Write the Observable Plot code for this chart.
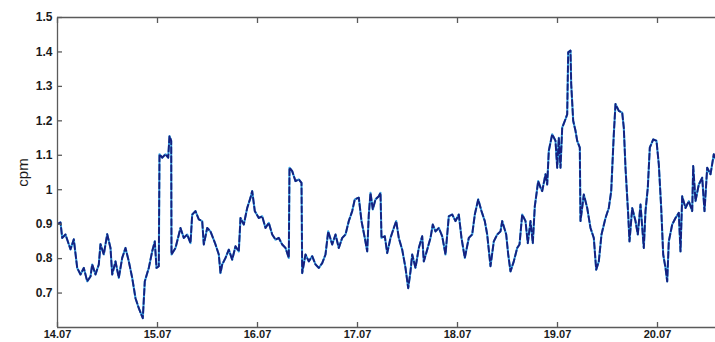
<!DOCTYPE html>
<html>
<head>
<meta charset="utf-8">
<script src="https://cdn.jsdelivr.net/npm/d3@7"></script>
<script src="https://cdn.jsdelivr.net/npm/@observablehq/plot@0.6"></script>
<style>
  html, body { margin: 0; padding: 0; background: #fff; }
</style>
</head>
<body>
<div id="chart"></div>
<script>
// Time in days (day-of-month of July), count rate in cpm
const times = [
  14.000,14.030,14.047,14.080,14.130,14.163,14.197,14.230,14.263,14.297,14.330,14.347,14.380,14.413,14.430,14.463,14.497,14.530,14.547,14.580,
  14.613,14.647,14.680,14.713,14.747,14.780,14.813,14.853,14.873,14.913,14.947,14.973,14.990,15.013,15.020,15.047,15.080,15.107,15.120,15.137,
  15.140,15.180,15.230,15.263,15.297,15.330,15.347,15.380,15.413,15.447,15.463,15.497,15.530,15.580,15.613,15.630,15.647,15.680,15.713,15.747,
  15.780,15.813,15.830,15.863,15.897,15.930,15.947,15.973,16.013,16.047,16.080,16.113,16.147,16.180,16.213,16.247,16.280,16.313,16.320,16.347,
  16.380,16.413,16.440,16.447,16.480,16.513,16.547,16.580,16.613,16.647,16.680,16.707,16.747,16.780,16.813,16.847,16.880,16.913,16.947,16.973,
  17.013,17.040,17.073,17.097,17.113,17.130,17.153,17.180,17.213,17.230,17.240,17.273,17.297,17.330,17.363,17.387,17.413,17.447,17.480,17.507,
  17.530,17.547,17.580,17.613,17.647,17.663,17.697,17.730,17.753,17.780,17.813,17.847,17.880,17.913,17.947,17.980,18.013,18.040,18.073,18.113,
  18.147,18.173,18.207,18.240,18.273,18.297,18.330,18.363,18.397,18.430,18.447,18.487,18.507,18.530,18.563,18.597,18.620,18.647,18.680,18.703,
  18.730,18.753,18.773,18.807,18.830,18.847,18.880,18.897,18.913,18.947,18.980,18.997,19.013,19.030,19.047,19.080,19.097,19.107,19.130,19.137,
  19.157,19.180,19.197,19.223,19.230,19.263,19.297,19.330,19.363,19.387,19.413,19.440,19.480,19.513,19.537,19.563,19.580,19.613,19.647,19.663,
  19.680,19.707,19.720,19.747,19.780,19.803,19.830,19.863,19.880,19.903,19.923,19.957,19.990,20.013,20.037,20.057,20.080,20.097,20.113,20.147,
  20.180,20.213,20.230,20.247,20.280,20.313,20.347,20.357,20.380,20.413,20.447,20.470,20.497,20.530,20.563,20.580
];
const cpm = [
  0.900,0.905,0.860,0.870,0.827,0.856,0.773,0.754,0.773,0.734,0.748,0.783,0.754,0.783,0.842,0.812,0.871,0.831,0.754,0.792,
  0.744,0.802,0.831,0.792,0.744,0.685,0.656,0.627,0.734,0.773,0.821,0.850,0.773,0.778,1.103,1.093,1.103,1.093,1.156,1.142,
  0.812,0.831,0.889,0.860,0.870,0.845,0.928,0.938,0.914,0.909,0.841,0.889,0.879,0.841,0.812,0.758,0.783,0.802,0.826,0.797,
  0.836,0.821,0.918,0.899,0.947,0.977,0.996,0.938,0.918,0.923,0.889,0.904,0.870,0.855,0.860,0.841,0.831,0.802,1.064,1.054,
  1.025,1.030,1.020,0.758,0.812,0.792,0.807,0.783,0.773,0.787,0.812,0.879,0.841,0.870,0.831,0.860,0.870,0.909,0.938,0.972,
  0.977,0.909,0.860,0.821,0.928,0.991,0.943,0.972,0.981,0.991,0.860,0.865,0.816,0.860,0.889,0.909,0.860,0.826,0.773,0.714,
  0.763,0.812,0.773,0.831,0.865,0.792,0.826,0.860,0.899,0.879,0.889,0.865,0.812,0.923,0.928,0.909,0.928,0.860,0.802,0.860,
  0.870,0.928,0.972,0.938,0.909,0.870,0.778,0.850,0.870,0.879,0.909,0.870,0.812,0.763,0.792,0.831,0.841,0.928,0.909,0.845,
  0.909,0.845,0.952,1.025,1.006,0.996,1.045,1.015,1.113,1.161,1.142,1.064,1.151,1.064,1.180,1.205,1.219,1.399,1.404,1.307,
  1.200,1.171,1.142,1.122,0.909,0.986,0.947,0.889,0.860,0.768,0.792,0.870,0.918,0.947,0.996,1.161,1.249,1.229,1.224,1.180,
  1.064,0.928,0.850,0.947,0.909,0.870,0.957,0.831,0.938,1.006,1.122,1.146,1.142,1.074,0.947,0.812,0.773,0.734,0.850,0.899,
  0.918,0.933,0.821,0.981,0.947,0.967,0.938,1.069,0.967,1.015,1.035,0.938,1.064,1.045,1.103,1.090
];
const dayTicks = [14, 15, 16, 17, 18, 19, 20];
const dayLabels = ["14.07", "15.07", "16.07", "17.07", "18.07", "19.07", "20.07"];
const cpmTicks = [0.7, 0.8, 0.9, 1.0, 1.1, 1.2, 1.3, 1.4, 1.5];
const cpmLabels = ["0.7", "0.8", "0.9", "1", "1.1", "1.2", "1.3", "1.4", "1.5"];

const data = times.map((t, i) => ({t, v: cpm[i]}));
const axisColor = "#5a5a5a";

const chart = Plot.plot({
  width: 715,
  height: 342,
  marginLeft: 57,
  marginRight: 0,
  marginTop: 17,
  marginBottom: 15,
  x: {domain: [14, 20.58]},
  y: {domain: [0.6, 1.5]},
  style: {fontFamily: "'Liberation Sans', Arial, sans-serif", fontSize: "12px", fontWeight: "bold", color: "#1a1a1a", background: "#fff", overflow: "visible"},
  marks: [
    Plot.line(data, {x: "t", y: "v", stroke: "#3ba8e4", strokeWidth: 2.1, clip: true}),
    Plot.line(data, {x: "t", y: "v", stroke: "#16207f", strokeWidth: 1.9, strokeDasharray: "6,3", clip: true}),
    Plot.ruleY([0.6, 1.5], {stroke: axisColor, strokeWidth: 1.3}),
    Plot.ruleX([14], {stroke: axisColor, strokeWidth: 1.3}),
    Plot.axisX({ticks: dayTicks, tickSize: -5, tickFormat: () => "", stroke: axisColor, strokeWidth: 1.3, label: null}),
    Plot.axisX({anchor: "top", ticks: dayTicks, tickSize: -5, tickFormat: () => "", stroke: axisColor, strokeWidth: 1.3, label: null}),
    Plot.axisX({ticks: dayTicks, tickSize: 0, tickPadding: 3, fontSize: 11, tickFormat: d => dayLabels[dayTicks.indexOf(d)], label: null}),
    Plot.axisY({ticks: cpmTicks, tickSize: -5, tickFormat: () => "", stroke: axisColor, strokeWidth: 1.3, label: null}),
    Plot.axisY({ticks: cpmTicks, tickSize: 0, tickPadding: 5, tickFormat: d => cpmLabels[cpmTicks.findIndex(c => Math.abs(c - d) < 1e-9)], label: "cpm", labelAnchor: "center", labelOffset: 40, labelArrow: false})
  ]
});
document.getElementById("chart").appendChild(chart);
const lab = d3.select(chart).selectAll('[aria-label="y-axis label"] text');
lab.style("font-weight", "normal").style("font-size", "15px").text("cpm");
</script>
</body>
</html>
